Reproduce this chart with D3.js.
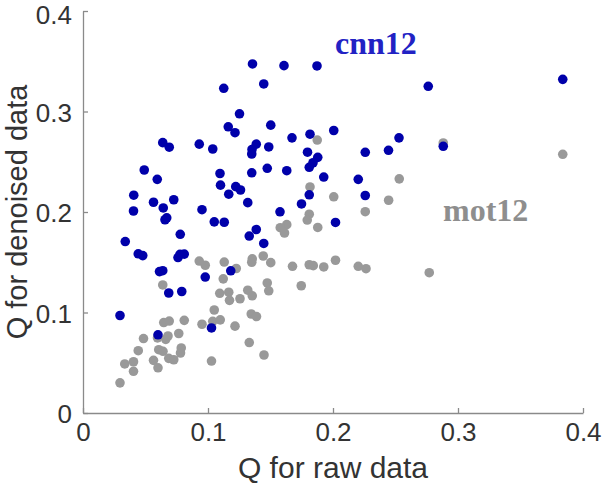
<!DOCTYPE html>
<html>
<head>
<meta charset="utf-8">
<script src="https://cdn.jsdelivr.net/npm/d3@7"></script>
<style>
  html, body { margin: 0; padding: 0; background: #fff; }
  svg { display: block; }
</style>
</head>
<body>
<svg id="chart" width="603" height="497"></svg>
<script>
// ---- data ----
const cnnX = [0.1356,0.1608,0.1872,0.1126,0.1446,0.2762,0.3838,0.1252,0.1162,0.1216,
  0.1502,0.0638,0.0690,0.0930,0.1038,0.1386,0.1352,0.1350,0.1486,0.1672,
  0.1816,0.2006,0.2528,0.2882,0.1796,0.2258,0.2444,0.1878,0.1840,0.1810,
  0.0490,0.0594,0.1096,0.1350,0.1474,0.1630,0.1926,0.2202,0.1100,0.1222,
  0.1260,0.1166,0.0406,0.1810,0.2258,0.0564,0.0726,0.1318,0.1748,0.0404,
  0.0642,0.0952,0.1576,0.0670,0.0656,0.1050,0.1130,0.2020,0.0778,0.0338,
  0.1386,0.1330,0.1446,0.0442,0.0478,0.0776,0.0810,0.0760,0.0612,0.0638,
  0.0978,0.1182,0.0686,0.0790,0.0296,0.0600,0.1028];
const cnnY = [0.3473,0.3456,0.3453,0.3231,0.3274,0.3251,0.3320,0.2977,0.2848,0.2789,
  0.2864,0.2690,0.2645,0.2675,0.2627,0.2675,0.2622,0.2577,0.2647,0.2738,
  0.2774,0.2811,0.2738,0.2654,0.2595,0.2594,0.2614,0.2544,0.2490,0.2445,
  0.2418,0.2325,0.2383,0.2390,0.2435,0.2411,0.2348,0.2325,0.2267,0.2252,
  0.2219,0.2177,0.2167,0.2171,0.2164,0.2097,0.2122,0.2093,0.2080,0.2010,
  0.2040,0.2023,0.2002,0.1942,0.1923,0.1902,0.1898,0.1896,0.1778,0.1706,
  0.1826,0.1761,0.1687,0.1584,0.1566,0.1579,0.1581,0.1547,0.1407,0.1416,
  0.1353,0.1415,0.1194,0.1209,0.0970,0.0778,0.0846];
const motX = [0.3838,0.2882,0.1874,0.2530,0.1816,0.2006,0.2445,0.2258,0.1810,0.1794,
  0.1878,0.1630,0.1578,0.1612,0.1676,0.1810,0.1842,0.1926,0.2020,0.2202,
  0.2264,0.2770,0.1746,0.1354,0.1350,0.1442,0.1502,0.0930,0.0978,0.1130,
  0.1226,0.1122,0.0638,0.1094,0.1166,0.1172,0.1256,0.1318,0.1354,0.1474,
  0.1486,0.1050,0.1346,0.1388,0.0646,0.0690,0.0810,0.0952,0.1038,0.1098,
  0.1216,0.0484,0.0596,0.0662,0.0680,0.0766,0.0442,0.0606,0.0640,0.0786,
  0.0780,0.0686,0.0726,0.0334,0.0404,0.0564,0.0600,0.0404,0.0296,0.1330,
  0.1028,0.1448];
const motY = [0.2574,0.2687,0.2716,0.2330,0.2249,0.2151,0.2117,0.2003,0.1978,0.1920,
  0.1846,0.1874,0.1844,0.1791,0.1460,0.1475,0.1466,0.1453,0.1520,0.1460,
  0.1436,0.1396,0.1266,0.1534,0.1500,0.1562,0.1496,0.1512,0.1470,0.1502,
  0.1438,0.1335,0.1274,0.1191,0.1202,0.1121,0.1137,0.1222,0.1166,0.1294,
  0.1216,0.1025,0.0985,0.0960,0.0900,0.0915,0.0922,0.0883,0.0912,0.0927,
  0.0864,0.0741,0.0748,0.0733,0.0766,0.0791,0.0620,0.0630,0.0614,0.0647,
  0.0597,0.0544,0.0530,0.0488,0.0510,0.0524,0.0450,0.0415,0.0300,0.0701,
  0.0517,0.0577];
const xTicks = [0, 0.1, 0.2, 0.3, 0.4];
const yTicks = [0, 0.1, 0.2, 0.3, 0.4];
const xTickLabels = ["0", "0.1", "0.2", "0.3", "0.4"];
const yTickLabels = ["0", "0.1", "0.2", "0.3", "0.4"];
const seriesNames = ["cnn12", "mot12"];
const xTitle = "Q for raw data";
const yTitle = "Q for denoised data";

// ---- layout ----
const svg = d3.select("#chart");
const mLeft = 83, mRight = 583, mTop = 11, mBottom = 413;
const x = d3.scaleLinear().domain([0, 0.4]).range([mLeft, mRight]);
const y = d3.scaleLinear().domain([0, 0.4]).range([mBottom, mTop]);

const axisColor = "#8a8a8a";
const textColor = "#333333";
const font = "'Liberation Sans', Arial, Helvetica, sans-serif";

const xAxis = d3.axisBottom(x).tickValues(xTicks)
  .tickFormat((d, i) => xTickLabels[i]).tickSize(-5).tickSizeOuter(0).tickPadding(10);
const yAxis = d3.axisLeft(y).tickValues(yTicks)
  .tickFormat((d, i) => yTickLabels[i]).tickSize(-5).tickSizeOuter(0).tickPadding(11);

const gx = svg.append("g").attr("transform", `translate(0,${mBottom})`).call(xAxis);
const gy = svg.append("g").attr("transform", `translate(${mLeft},0)`).call(yAxis);
[gx, gy].forEach(g => {
  g.select(".domain").attr("stroke", axisColor).attr("stroke-width", 1.3);
  g.selectAll(".tick line").attr("stroke", axisColor).attr("stroke-width", 1.3);
  g.selectAll(".tick text").attr("fill", textColor)
    .style("font-family", font).style("font-size", "26px");
});
gy.selectAll(".tick text").attr("dy", (d, i, n) => i === n.length - 1 ? "0.47em" : "0.38em");

// ---- points ----
const motData = motX.map((v, i) => ({ x: v, y: motY[i] }));
const cnnData = cnnX.map((v, i) => ({ x: v, y: cnnY[i] }));
svg.append("g").selectAll("circle").data(motData).join("circle")
  .attr("cx", d => x(d.x)).attr("cy", d => y(d.y)).attr("r", 4.8)
  .attr("fill", "#999999");
svg.append("g").selectAll("circle").data(cnnData).join("circle")
  .attr("cx", d => x(d.x)).attr("cy", d => y(d.y)).attr("r", 4.8)
  .attr("fill", "#0000aa");

// ---- labels ----
svg.append("text").attr("x", 335).attr("y", 54).text(seriesNames[0])
  .attr("fill", "#2222c4").style("font-family", "'Liberation Serif', 'Times New Roman', serif")
  .style("font-weight", "bold").style("font-size", "32px");
svg.append("text").attr("x", 443).attr("y", 221).text(seriesNames[1])
  .attr("fill", "#8e8e8e").style("font-family", "'Liberation Serif', 'Times New Roman', serif")
  .style("font-weight", "bold").style("font-size", "32px");

svg.append("text").attr("x", (mLeft + mRight) / 2).attr("y", 478)
  .attr("text-anchor", "middle").text(xTitle).attr("fill", textColor)
  .style("font-family", font).style("font-size", "30px");
svg.append("text").attr("transform", `translate(27,${(mTop + mBottom) / 2}) rotate(-90)`)
  .attr("text-anchor", "middle").text(yTitle).attr("fill", textColor)
  .style("font-family", font).style("font-size", "29px");
</script>
</body>
</html>
